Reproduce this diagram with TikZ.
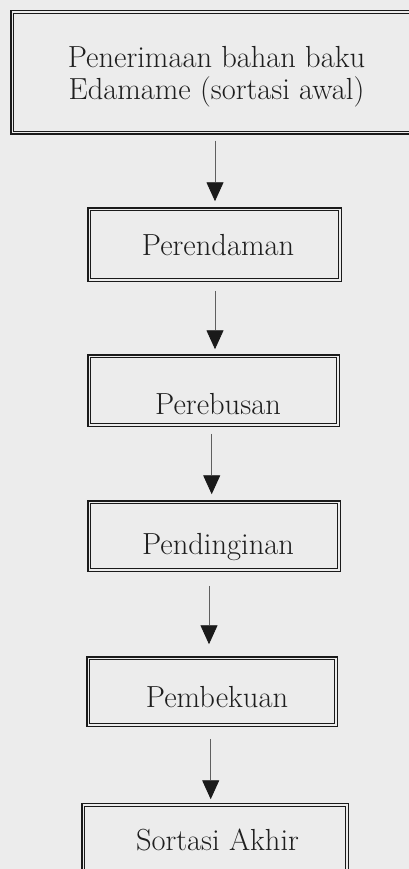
\documentclass[tikz,border=0pt]{standalone}
\usetikzlibrary{arrows.meta}
\definecolor{paper}{HTML}{ECECEC}
\definecolor{ink}{HTML}{1A1A1A}
\definecolor{txt}{HTML}{1E1E1E}
\begin{document}
\begin{tikzpicture}[x=1pt,y=-1pt,
  stage/.style={draw=ink, line width=1.5pt, inner sep=0pt},
  innerrule/.style={draw=ink, line width=0.9pt},
  lbl/.style={text=txt, inner sep=0pt, font=\fontsize{30.5}{32}\selectfont},
  flow/.style={draw=ink!70, line width=0.9pt, -{Triangle[width=17pt,length=19pt,color=ink]}}]
\useasboundingbox (0,0) rectangle (409,869);
\fill[paper] (0,0) rectangle (409,869);
\clip (0,0) rectangle (409,869);

% process stages: heavy outer rule
\node[stage, minimum width=410.5pt, minimum height=123.5pt] (b1) at (216,72.5) {};
\node[stage, minimum width=253.5pt, minimum height=73.5pt]  (b2) at (214.5,244.5) {};
\node[stage, minimum width=251.5pt, minimum height=71.5pt]  (b3) at (213.5,390.5) {};
\node[stage, minimum width=252.5pt, minimum height=70.5pt]  (b4) at (214,536) {};
\node[stage, minimum width=250.5pt, minimum height=69.5pt]  (b5) at (212,691.5) {};
\node[stage, minimum width=266.5pt, minimum height=73.5pt]  (b6) at (215,840) {};

% thinner rule set just inside each frame
\foreach \b in {b1,b2,b3,b4,b5,b6}
  \draw[innerrule] ([shift={(3.8pt,-3.8pt)}]\b.north west) rectangle ([shift={(-3.8pt,3.8pt)}]\b.south east);

% stage names
\node[lbl, align=center] (t1) at (216.5,77.2) {Penerimaan bahan baku\\Edamame (sortasi awal)};
\node[lbl, anchor=base] (t2) at (218,255) {Perendaman};
\node[lbl, anchor=base] (t3) at (218,414) {Perebusan};
\node[lbl, anchor=base] (t4) at (218,554) {Pendinginan};
\node[lbl, anchor=base] (t5) at (217,707) {Pembekuan};
\node[lbl, anchor=base] (t6) at (217.5,850) {Sortasi Akhir};

% flow arrows
\draw[flow] ([xshift=-1pt,yshift=-5.75pt]b1.south) -- ([xshift=0.5pt,yshift=5.75pt]b2.north);
\draw[flow] ([xshift=0.5pt,yshift=-8.75pt]b2.south) -- ([xshift=1.5pt,yshift=4.75pt]b3.north);
\draw[flow] ([xshift=-1.8pt,yshift=-6.75pt]b3.south) -- ([xshift=-2.3pt,yshift=5.75pt]b4.north);
\draw[flow] ([xshift=-5pt,yshift=-13.75pt]b4.south) -- ([xshift=-3pt,yshift=11.75pt]b5.north);
\draw[flow] ([xshift=-1.3pt,yshift=-11.75pt]b5.south) -- ([xshift=-4.3pt,yshift=3.25pt]b6.north);
\end{tikzpicture}
\end{document}
